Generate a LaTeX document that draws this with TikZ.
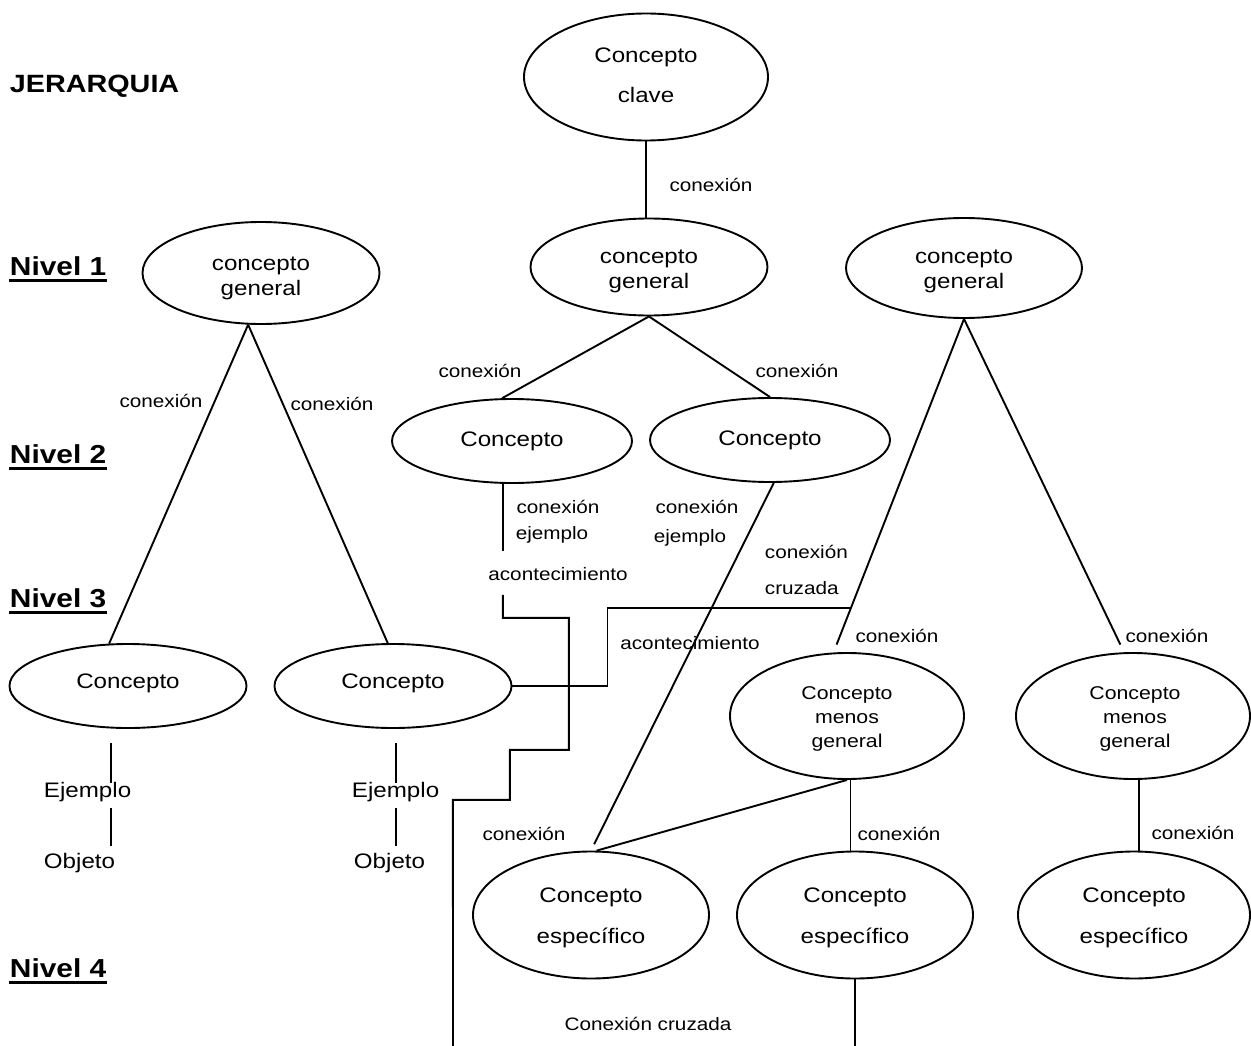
\documentclass[tikz,border=0pt]{standalone}
\usepackage{fontspec}
\setmainfont{Liberation Sans}[FakeStretch=1.15]
\usetikzlibrary{shapes.geometric,calc}
\begin{document}
\begin{tikzpicture}[x=1pt,y=-1pt,line width=1.9pt,
  ell/.style={draw,ellipse,inner sep=0pt},
  big/.style={inner sep=0pt,anchor=base,font=\fontsize{21}{25}\selectfont},
  mid/.style={inner sep=0pt,anchor=base,font=\fontsize{18.5}{22}\selectfont},
  lbl/.style={inner sep=0pt,anchor=base,font=\fontsize{18}{22}\selectfont},
  lvl/.style={inner sep=0pt,anchor=base west,font=\bfseries\fontsize{26}{30}\selectfont},
  uline/.style={line width=3pt}]
\useasboundingbox (0,0) rectangle (1251,1046);

% level titles
\node[lvl,font=\bfseries\fontsize{25}{30}\selectfont] (jer) at (9,93) {JERARQUIA};
\node[lvl] (n1) at (9,275) {Nivel 1};
\node[lvl] (n2) at (9,463) {Nivel 2};
\node[lvl] (n3) at (9,607) {Nivel 3};
\node[lvl] (n4) at (9,977) {Nivel 4};
\foreach \n in {n1,n2,n3,n4}
  \draw[uline] ([yshift=-5.5pt]\n.base west) -- ([yshift=-5.5pt]\n.base east);

% ellipses
\node[ell,minimum width=244,minimum height=127] (k) at (646,77) {};
\node[ell,minimum width=237,minimum height=97] (g2) at (649,267) {};
\node[ell,minimum width=237,minimum height=102] (g1) at (261,273) {};
\node[ell,minimum width=236,minimum height=100] (g3) at (964,268) {};
\node[ell,minimum width=240,minimum height=84] (c2a) at (512,441) {};
\node[ell,minimum width=240,minimum height=84] (c2b) at (770,440) {};
\node[ell,minimum width=237,minimum height=84] (c3a) at (128,686) {};
\node[ell,minimum width=237,minimum height=84] (c3b) at (393,686) {};
\node[ell,minimum width=234,minimum height=126] (m1) at (847,716) {};
\node[ell,minimum width=234,minimum height=126] (m2) at (1133,716) {};
\node[ell,minimum width=236,minimum height=127] (e1) at (591,915) {};
\node[ell,minimum width=236,minimum height=127] (e2) at (855,915) {};
\node[ell,minimum width=232,minimum height=127] (e3) at (1134,915) {};

% ellipse texts
\node[big] (kt1) at (646,63) {Concepto};
\node[big] (kt2) at (646,103) {clave};
\node[big] (g2t1) at (649,263) {concepto};
\node[big] (g2t2) at (649,288) {general};
\node[big] (g1t1) at (261,270) {concepto};
\node[big] (g1t2) at (261,295) {general};
\node[big] (g3t1) at (964,263) {concepto};
\node[big] (g3t2) at (964,288) {general};
\node[big] (c2at) at (512,446) {Concepto};
\node[big] (c2bt) at (770,445) {Concepto};
\node[big] (c3at) at (128,688) {Concepto};
\node[big] (c3bt) at (393,688) {Concepto};
\node[mid] (m1t1) at (847,699) {Concepto};
\node[mid] (m1t2) at (847,723) {menos};
\node[mid] (m1t3) at (847,747) {general};
\node[mid] (m2t1) at (1135,699) {Concepto};
\node[mid] (m2t2) at (1135,723) {menos};
\node[mid] (m2t3) at (1135,747) {general};
\node[big] (e1t1) at (591,902) {Concepto};
\node[big] (e1t2) at (591,943) {específico};
\node[big] (e2t1) at (855,902) {Concepto};
\node[big] (e2t2) at (855,943) {específico};
\node[big] (e3t1) at (1134,902) {Concepto};
\node[big] (e3t2) at (1134,943) {específico};

% examples under level-3 concepts
\node[big,anchor=base west] (ej1) at (43,797) {Ejemplo};
\node[big,anchor=base west] (ob1) at (43,868) {Objeto};
\node[big,anchor=base west] (ej2) at (351,797) {Ejemplo};
\node[big,anchor=base west] (ob2) at (353,868) {Objeto};

% connector labels
\node[lbl] (l1) at (711,192) {conexión};
\node[lbl] (l2) at (480,377) {conexión};
\node[lbl] (l3) at (797,377) {conexión};
\node[lbl] (l4) at (161,407) {conexión};
\node[lbl] (l5) at (332,410) {conexión};
\node[lbl] (l6a) at (558,513) {conexión};
\node[lbl] (l6b) at (552,539) {ejemplo};
\node[lbl] (l7a) at (697,513) {conexión};
\node[lbl] (l7b) at (690,542) {ejemplo};
\node[lbl,anchor=base west] (l8a) at (764,558) {conexión};
\node[lbl,anchor=base west] (l8b) at (764,594) {cruzada};
\node[lbl] (a1) at (558,580) {acontecimiento};
\node[lbl] (a2) at (690,649) {acontecimiento};
\node[lbl] (l9) at (897,642) {conexión};
\node[lbl] (l10) at (1167,642) {conexión};
\node[lbl] (l11) at (524,840) {conexión};
\node[lbl] (l12) at (899,840) {conexión};
\node[lbl] (l13) at (1193,839) {conexión};
\node[lbl] (cc) at (648,1030) {Conexión cruzada};

% connectors
\draw (k.south) -- (k.south |- g2.north);
\draw (g2.south) -- (c2a.103);
\draw (g2.south) -- (c2b.north);
\draw (g1.256) -- (c3a.114);
\draw (g1.256) -- (c3b.97);
\draw[shorten >=8.5pt] (g3.south) -- (m1.102);
\draw[shorten >=8.5pt] (g3.south) -- (m2.98);
\coordinate (cr) at ($(g3.south)!0.8676!(m1.102)$);
\draw (c3b.east) -- ++(95,0) |- (cr);

\coordinate (endA) at (453,1046);
\draw (c2a.258) -- ++(0,67);
\draw ($(c2a.258)+(0,111)$) -- ++(0,23) -- ++(66,0) -- ++(0,132) -- ++(-59,0)
  -- ++(0,50) -- ++(-57,0) -- (endA);

\draw[shorten >=7pt] (c2b.275) -- (e1.north);
\draw (m1.south) -- (e1.85);
\draw (e2.94 |- m1.south) -- (e2.94);
\coordinate (endB) at (855,1046);
\draw (e2.south) -- (endB);
\draw (m2.275) -- (m2.275 |- e3.north);

\draw ([xshift=-17pt]c3a.south) ++(0,14) -- ++(0,40);
\draw ([xshift=-17pt]c3a.south) ++(0,79) -- ++(0,38);
\draw ([xshift=3pt]c3b.south) ++(0,14) -- ++(0,40);
\draw ([xshift=3pt]c3b.south) ++(0,79) -- ++(0,38);
\end{tikzpicture}
\end{document}
